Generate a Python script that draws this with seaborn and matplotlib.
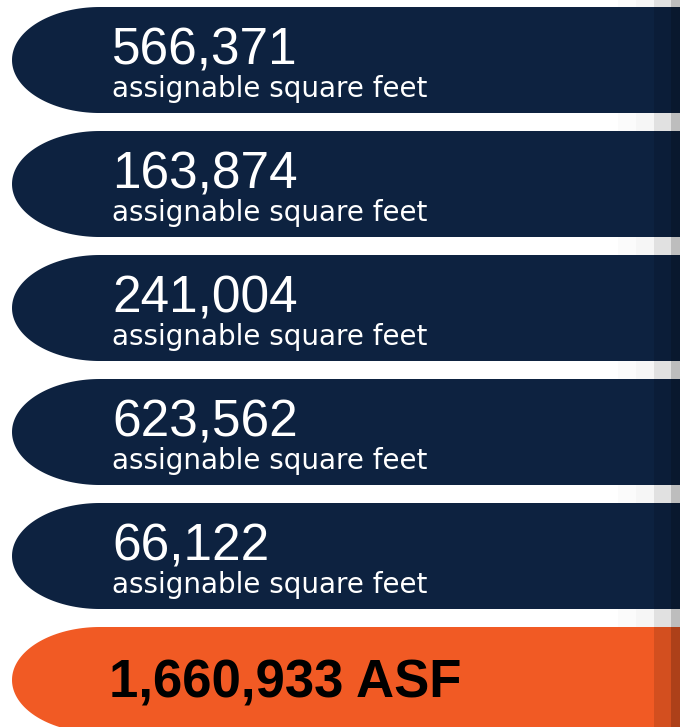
import numpy as np
import pandas as pd
import matplotlib
matplotlib.use("Agg")
import matplotlib.pyplot as plt
from matplotlib import font_manager
from matplotlib.path import Path
from matplotlib.patches import PathPatch, Rectangle
import seaborn as sns

# data
asf_values = [566371, 163874, 241004, 623562, 66122]
sub_label = "assignable square feet"
total_suffix = "ASF"

navy = "#0d2240"
orange = "#f15a24"

rows = [f"{v:,}" for v in asf_values] + ["total"]
row_colors = [navy] * len(asf_values) + [orange]
total_value = sum(asf_values)

df = pd.DataFrame({"row": rows, "span": 668})

sns.set_theme(style="white")
installed = {f.name for f in font_manager.fontManager.ttflist}
total_family = "Liberation Sans Narrow" if "Liberation Sans Narrow" in installed else "Liberation Sans"

fig = plt.figure(figsize=(6.8, 7.27), dpi=100)
ax = fig.add_axes([0, 0, 1, 1])

# light grey shadow strips at the right edge (seen in the gaps)
for x0, x1, c in [(606, 624, "#fbfbfb"), (624, 642, "#f6f6f6"),
                  (642, 659, "#e1e1e1"), (659, 668, "#bdbdbd")]:
    ax.axvspan(x0, x1, color=c, lw=0, zorder=0)

sns.barplot(data=df, x="span", y="row", hue="row", palette=row_colors,
            orient="h", width=0.855, legend=False, ax=ax, zorder=2,
            linewidth=0, saturation=1)

ax.set_xlim(-12, 668)
ax.set_ylim(5.379, -0.484)
ax.set_axis_off()

rx = 88
for p in ax.patches:
    if not isinstance(p, Rectangle) or p.get_width() < 100:
        continue
    x0, y0, w, h = p.get_x(), p.get_y(), p.get_width(), p.get_height()
    ry = h / 2
    cy = y0 + ry
    t = np.linspace(np.pi / 2, 3 * np.pi / 2, 80)
    ex = x0 + rx + rx * np.cos(t)
    ey = cy + ry * np.sin(t)
    verts = [(x0 + rx, y0), (x0 + w + 5, y0), (x0 + w + 5, y0 + h)]
    verts += list(zip(ex, ey))
    verts.append((x0 + rx, y0))
    clip = PathPatch(Path(verts), transform=ax.transData, visible=False)
    ax.add_patch(clip)
    p.set_clip_path(clip)
    # darker shading at right edge
    for sx0, sx1, a in [(642, 659, 0.12), (659, 668, 0.28)]:
        ax.add_patch(Rectangle((sx0, y0), sx1 - sx0, h, facecolor="black",
                               alpha=a, lw=0, zorder=3))

for i, v in enumerate(asf_values):
    ax.text(100, i + 0.04, f"{v:,}", color="white", fontsize=37,
            family="Liberation Sans", va="baseline", ha="left", zorder=4)
    ax.text(100, i + 0.298, sub_label, color="white", fontsize=20,
            family="DejaVu Sans", va="baseline", ha="left", zorder=4)

total_txt = f"{total_value:,} {total_suffix}"
tt = ax.text(97, len(asf_values) + 0.145, total_txt, color="black",
             fontsize=39, fontweight="bold", family=total_family,
             va="baseline", ha="left", zorder=4)
# fit the total label to its width in the reference (~353 px)
fig.canvas.draw()
wpx = tt.get_window_extent().width
tt.set_fontsize(39 * 353 / wpx)

fig.savefig("out.png", dpi=100)
